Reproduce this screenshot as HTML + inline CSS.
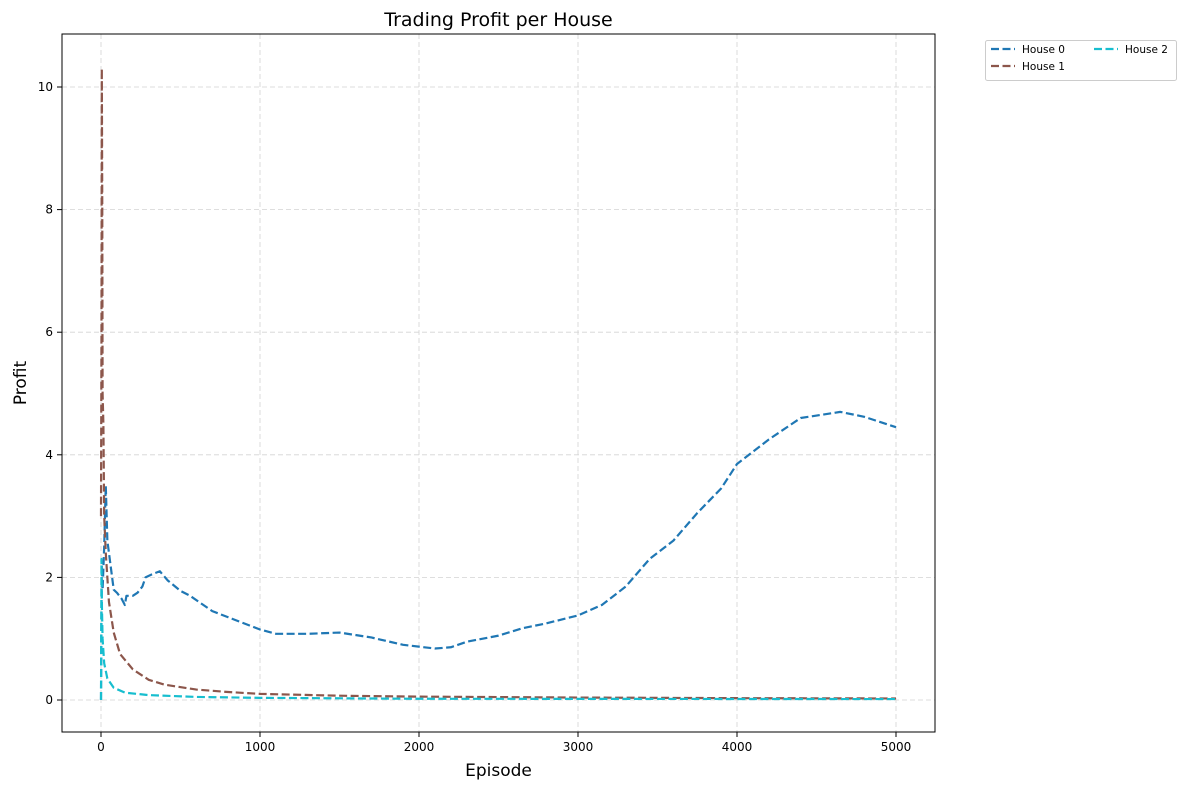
<!DOCTYPE html>
<html><head><meta charset="utf-8"><style>
body{margin:0;background:#fff;font-family:"Liberation Sans","DejaVu Sans",sans-serif}
svg text{font-family:"DejaVu Sans","Liberation Sans",sans-serif}
</style></head><body>
<svg id="chart" width="1187" height="790" xmlns="http://www.w3.org/2000/svg"></svg>
<script>
const house0X=[0,5,10,20,30,40,50,60,70,80,100,130,150,160,200,230,260,280,320,370,420,500,560,700,800,1000,1100,1300,1500,1700,1900,2100,2200,2300,2500,2650,2800,3000,3150,3300,3450,3600,3750,3900,4000,4200,4400,4650,4800,5000];
const house0Y=[0,2.2,1.8,2.5,3.5,2.6,2.4,2.2,2.0,1.8,1.75,1.65,1.55,1.7,1.7,1.75,1.85,2.0,2.05,2.1,1.95,1.78,1.7,1.45,1.35,1.15,1.08,1.08,1.1,1.02,0.9,0.84,0.86,0.95,1.05,1.17,1.25,1.38,1.55,1.85,2.3,2.6,3.05,3.45,3.85,4.25,4.6,4.7,4.62,4.45];
const house1X=[0,3,5,8,10,15,20,30,50,80,120,200,300,400,600,800,1000,1500,2000,3000,4000,5000];
const house1Y=[3,6,10.3,8,5,4.5,3.0,2.4,1.6,1.1,0.75,0.5,0.33,0.25,0.17,0.13,0.1,0.07,0.055,0.04,0.03,0.025];
const house2X=[0,3,6,10,20,40,80,150,300,600,1000,2000,5000];
const house2Y=[0,2.3,1.5,1.0,0.6,0.35,0.2,0.12,0.08,0.05,0.035,0.02,0.015];
const xTicks=[0,1000,2000,3000,4000,5000];
const yTicks=[0,2,4,6,8,10];
const seriesNames=["House 0","House 1","House 2"];
const colors=["#1f77b4","#8c564b","#17becf"];

const L=62,R=935,T=34,B=732;
const sx=v=>101+v*(896-101)/5000;
const sy=v=>700-v*(700-87)/10;
const svg=document.getElementById('chart');
const NS="http://www.w3.org/2000/svg";
function mk(tag,attrs,parent){const e=document.createElementNS(NS,tag);for(const k in attrs)e.setAttribute(k,attrs[k]);(parent||svg).appendChild(e);return e;}

xTicks.forEach(t=>{
 const g=mk('line',{x1:sx(t),x2:sx(t),y1:T,y2:B,stroke:'#d3d3d3','stroke-dasharray':'5,3','stroke-width':0.8});
 
 
 const tk=mk('line',{x1:sx(t),x2:sx(t),y1:B,y2:B+5,stroke:'#000'});
 
 
 const tx=mk('text',{x:sx(t),y:B+19,'text-anchor':'middle','font-size':12});
 tx.textContent=t;
 
 
});
yTicks.forEach(t=>{
 const g=mk('line',{x1:L,x2:R,y1:sy(t),y2:sy(t),stroke:'#d3d3d3','stroke-dasharray':'5,3','stroke-width':0.8});
 
 
 const tk=mk('line',{x1:L-5,x2:L,y1:sy(t),y2:sy(t),stroke:'#000'});
 
 
 const tx=mk('text',{x:L-9,y:sy(t)+4,'text-anchor':'end','font-size':12});
 tx.textContent=t;
 
 
});

const sets=[[house0X,house0Y],[house1X,house1Y],[house2X,house2Y]];
sets.forEach((s,i)=>{
 const d=s[0].map((x,j)=>(j?'L':'M')+sx(x).toFixed(2)+','+sy(s[1][j]).toFixed(2)).join('');
 const p=mk('path',{d:d,fill:'none',stroke:colors[i],'stroke-width':2.2,'stroke-dasharray':'8,3.5','stroke-linejoin':'round'});
 
 
});

const frame=mk('rect',{x:L,y:T,width:R-L,height:B-T,fill:'none',stroke:'#000','stroke-width':1});



const title=mk('text',{x:(L+R)/2,y:26,'text-anchor':'middle','font-size':19});
title.textContent='Trading Profit per House';


const xl=mk('text',{x:(L+R)/2,y:776,'text-anchor':'middle','font-size':17});
xl.textContent='Episode';


const yl=mk('text',{x:0,y:0,'text-anchor':'middle','font-size':17,transform:'translate(26,383) rotate(-90)'});
yl.textContent='Profit';



const lg=mk('g',{});


mk('rect',{x:985.5,y:40.5,width:191,height:40,rx:2,fill:'#fff',stroke:'#ccc'},lg);
const pos=[[990,53],[990,70],[1093,53]];
seriesNames.forEach((n,i)=>{
 const e=mk('g',{},lg);
 
 
 mk('line',{x1:pos[i][0]+1,x2:pos[i][0]+25,y1:pos[i][1]-4,y2:pos[i][1]-4,stroke:colors[i],'stroke-width':2.2,'stroke-dasharray':'8,3.5'},e);
 const t=mk('text',{x:pos[i][0]+32,y:pos[i][1],'font-size':10.5},e);
 t.textContent=n;
});
</script>
</body></html>
